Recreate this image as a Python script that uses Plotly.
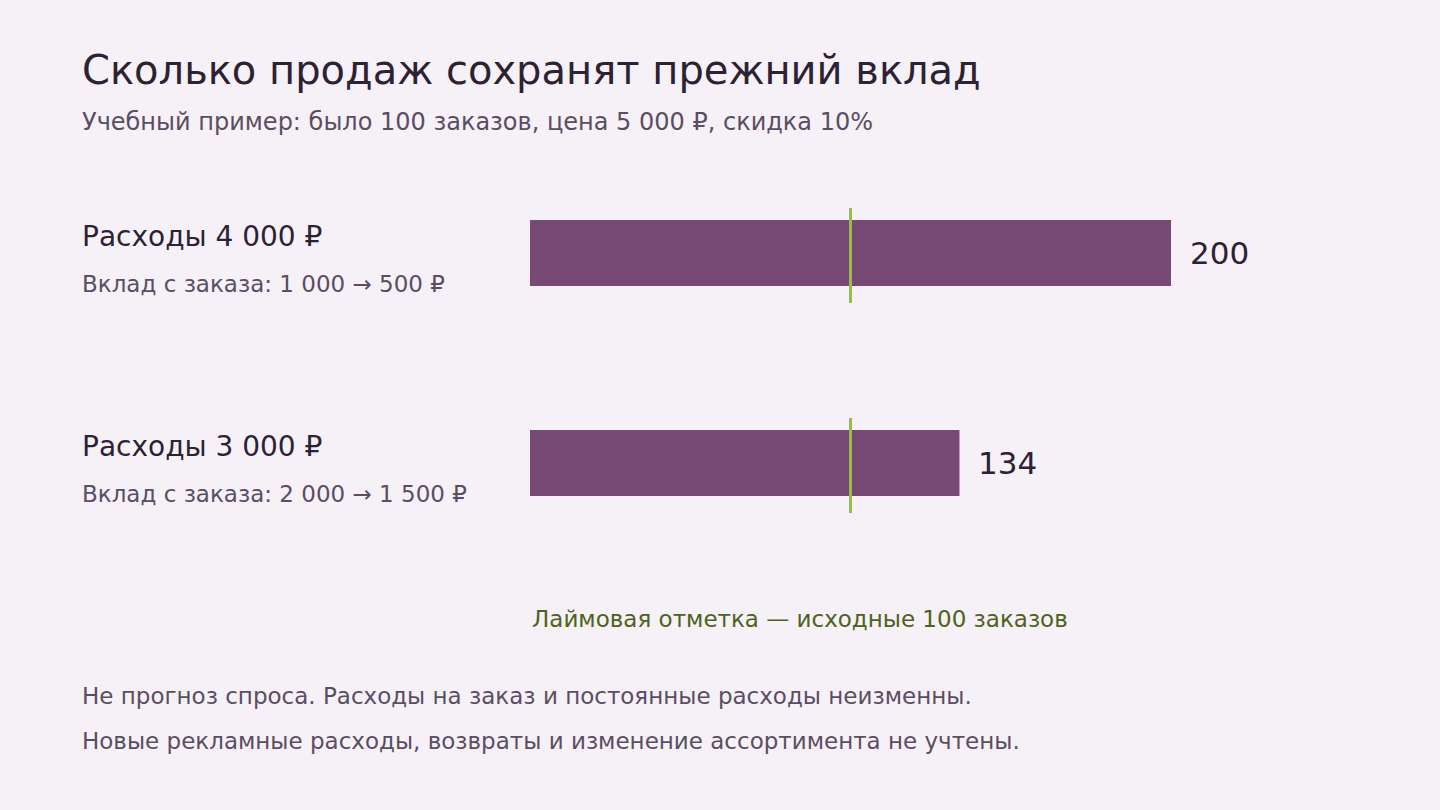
import plotly.graph_objects as go

W, H = 1440, 810
cost_labels = ["Расходы 4 000 ₽", "Расходы 3 000 ₽"]
margin_labels = ["Вклад с заказа: 1 000 → 500 ₽", "Вклад с заказа: 2 000 → 1 500 ₽"]
orders_needed = [200, 134]
baseline = 100

BG = "#f5f1f6"
DARK = "#2c2233"
MUTED = "#5b4d64"
BAR = "#764a75"
LIME = "#9bba4c"
LIME_TXT = "#4e6220"
FONT = "DejaVu Sans"

def py(px):
    return 1 - px / H

ypos = list(range(len(orders_needed)))

fig = go.Figure(go.Bar(
    x=orders_needed, y=ypos, orientation="h", width=0.314,
    marker=dict(color=BAR, line=dict(width=0)), hoverinfo="skip",
))

for y in ypos:
    fig.add_shape(type="line", x0=baseline, x1=baseline, y0=y - 0.214, y1=y + 0.238,
                  xref="x", yref="y", line=dict(color=LIME, width=3))

ann = []
def txt(x, y, s, size, color):
    ann.append(dict(x=x / W, y=py(y), xref="paper", yref="paper", text=s, showarrow=False,
                    xanchor="left", yanchor="middle", font=dict(size=size, color=color, family=FONT)))

# value labels next to bars
for v, y in zip(orders_needed, ypos):
    ann.append(dict(x=v, y=y, xref="x", yref="y", text=str(v), showarrow=False, xshift=17,
                    xanchor="left", yanchor="middle", font=dict(size=31, color=DARK, family=FONT)))

txt(80, 70, "Сколько продаж сохранят прежний вклад", 40, DARK)
txt(80, 122, "Учебный пример: было 100 заказов, цена 5 000 ₽, скидка 10%", 24, MUTED)
for i, (a, b) in enumerate(zip(cost_labels, margin_labels)):
    txt(80, 237 + 210 * i, a, 28, DARK)
    txt(80, 284 + 210 * i, b, 23, MUTED)
txt(530, 619, "Лаймовая отметка — исходные 100 заказов", 23, LIME_TXT)
txt(80, 696, "Не прогноз спроса. Расходы на заказ и постоянные расходы неизменны.", 23, MUTED)
txt(80, 741, "Новые рекламные расходы, возвраты и изменение ассортимента не учтены.", 23, MUTED)

fig.update_layout(
    width=W, height=H, margin=dict(l=0, r=0, t=0, b=0),
    paper_bgcolor=BG, plot_bgcolor=BG, showlegend=False, annotations=ann,
    xaxis=dict(domain=[530 / W, 1171 / W], range=[0, 200], visible=False),
    yaxis=dict(domain=[py(568), py(148)], range=[1.5, -0.5], visible=False),
)
fig.write_html("out.html", config={"displayModeBar": False},
               post_script="document.body.style.margin='0';document.body.style.background='%s';" % BG)
